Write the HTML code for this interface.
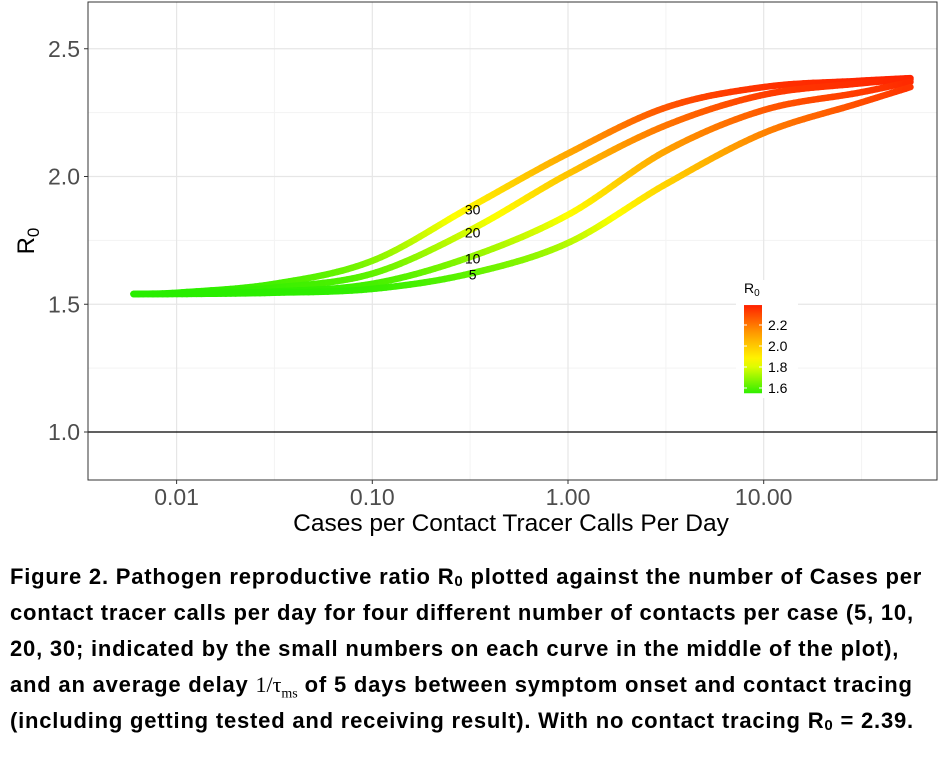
<!DOCTYPE html>
<html><head><meta charset="utf-8"><style>
body{margin:0;background:#fff;width:940px;height:772px;overflow:hidden;font-family:"Liberation Sans",sans-serif}
#cap{position:absolute;left:10px;top:559px;font-weight:bold;font-size:22px;letter-spacing:0.8px;line-height:36px;color:#000;white-space:nowrap}
#cap sub{line-height:0}
#cap .d{line-height:0}
</style></head><body>
<svg id="chart" width="940" height="550" style="position:absolute;left:0;top:0" font-family="Liberation Sans, sans-serif"></svg>
<div id="cap">Figure 2. Pathogen reproductive ratio R<sub style="font-size:15px;vertical-align:-2px">0</sub> plotted against the number of Cases per<br>contact tracer calls per day for four different number of contacts per case (5, 10,<br>20, 30; indicated by the small numbers on each curve in the middle of the plot),<br>and an average delay <span class="d" style="font-weight:normal;font-family:'Liberation Serif',serif;letter-spacing:0">1/τ<sub style="font-size:14px">ms</sub></span> of 5 days between symptom onset and contact tracing<br>(including getting tested and receiving result). With no contact tracing R<sub style="font-size:15px;vertical-align:-2px">0</sub> = 2.39.</div>
<script>
const logX=[-2.22,-2,-1.5,-1,-0.5,0,0.5,1,1.5,1.75];
const c30=[1.54,1.545,1.58,1.67,1.88,2.09,2.27,2.35,2.375,2.385];
const c20=[1.54,1.543,1.565,1.62,1.79,2.01,2.20,2.32,2.365,2.38];
const c10=[1.54,1.542,1.55,1.58,1.685,1.85,2.10,2.26,2.33,2.37];
const c5=[1.54,1.54,1.545,1.56,1.62,1.74,1.97,2.17,2.29,2.35];
const seriesNames=["30","20","10","5"];
const labelX=0.3;
const xTicks=[0.01,0.1,1,10];
const xTickLabels=["0.01","0.10","1.00","10.00"];
const yTicks=[1.0,1.5,2.0,2.5];
const legendTicks=[1.6,1.8,2.0,2.2];
const NS="http://www.w3.org/2000/svg";
const svg=document.getElementById('chart');
const L=88,R=937,T=2,B=480;
const xs=lx=>568+lx*195.7;
const ys=v=>432-(v-1)*255.5;
function mk(t,a,p){const e=document.createElementNS(NS,t);for(const k in a)e.setAttribute(k,a[k]);(p||svg).appendChild(e);return e;}
function col(v){const st=[[1.54,[40,238,0]],[1.85,[255,255,0]],[2.1,[255,165,0]],[2.39,[255,32,0]]];
 if(v<=st[0][0])return 'rgb('+st[0][1]+')';
 for(let i=1;i<st.length;i++){if(v<=st[i][0]){const t=(v-st[i-1][0])/(st[i][0]-st[i-1][0]);const c=st[i-1][1].map((a,j)=>Math.round(a+(st[i][1][j]-a)*t));return 'rgb('+c+')';}}
 return 'rgb('+st[3][1]+')';}
const grid=mk('g',{});
[1.25,1.75,2.25].forEach(v=>mk('line',{x1:L,x2:R,y1:ys(v),y2:ys(v),stroke:'#f3f3f3','stroke-width':1},grid));
[-1.5,-0.5,0.5,1.5].forEach(l=>mk('line',{x1:xs(l),x2:xs(l),y1:T,y2:B,stroke:'#f3f3f3','stroke-width':1},grid));
yTicks.forEach(v=>{if(v!==1)mk('line',{x1:L,x2:R,y1:ys(v),y2:ys(v),stroke:'#e6e6e6','stroke-width':1.2},grid);});
xTicks.forEach(t=>mk('line',{x1:xs(Math.log10(t)),x2:xs(Math.log10(t)),y1:T,y2:B,stroke:'#e6e6e6','stroke-width':1.2},grid));
const hl=mk('line',{x1:L,x2:R,y1:ys(1),y2:ys(1),stroke:'#000','stroke-width':1.2});

function interp(xa,ya,x){for(let i=1;i<xa.length;i++){if(x<=xa[i]){const x0=xa[i-1],x1=xa[i];const h=x1-x0;const t=(x-x0)/h;
 const m=k=>{if(k===0)return (ya[1]-ya[0])/(xa[1]-xa[0]);if(k===xa.length-1)return (ya[k]-ya[k-1])/(xa[k]-xa[k-1]);return (ya[k+1]-ya[k-1])/(xa[k+1]-xa[k-1]);};
 const h00=2*t*t*t-3*t*t+1,h10=t*t*t-2*t*t+t,h01=-2*t*t*t+3*t*t,h11=t*t*t-t*t;
 return h00*ya[i-1]+h10*h*m(i-1)+h01*ya[i]+h11*h*m(i);}}return ya[ya.length-1];}
[c30,c20,c10,c5].forEach((s,si)=>{
 const g=mk('g',{});
 const n=160,x0=logX[0],x1=logX[logX.length-1];let px=null,py=null,pv=null;
 for(let i=0;i<=n;i++){const lx=x0+(x1-x0)*i/n;const v=interp(logX,s,lx);const X=xs(lx),Y=ys(v);
  if(px!==null)mk('line',{x1:px,y1:py,x2:X,y2:Y,stroke:col((v+pv)/2),'stroke-width':6.5,'stroke-linecap':'round'},g);
  px=X;py=Y;pv=v;}
});
[c30,c20,c10,c5].forEach((s,si)=>{
 const lx=Math.log10(labelX);const v=interp(logX,s,lx);
 const t=mk('text',{x:xs(lx)+7,y:ys(v)+5,'font-size':14,'text-anchor':'middle',fill:'#000'});t.textContent=seriesNames[si];
 
});
const pb=mk('rect',{x:L,y:T,width:R-L,height:B-T,fill:'none',stroke:'#333','stroke-width':1});

yTicks.forEach(v=>{mk('line',{x1:L-4,x2:L,y1:ys(v),y2:ys(v),stroke:'#333'});
 const t=mk('text',{x:L-8,y:ys(v)+8,'font-size':23,'text-anchor':'end',fill:'#4d4d4d'});t.textContent=v.toFixed(1);
 });
xTicks.forEach((tk,i)=>{const X=xs(Math.log10(tk));mk('line',{x1:X,x2:X,y1:B,y2:B+4,stroke:'#333'});
 const t=mk('text',{x:X,y:B+25,'font-size':23,'text-anchor':'middle',fill:'#4d4d4d'});t.textContent=xTickLabels[i];
 });
const xt=mk('text',{x:511,y:531,'font-size':24.5,'text-anchor':'middle',fill:'#000'});xt.textContent='Cases per Contact Tracer Calls Per Day';

const yt=mk('text',{transform:'translate(34,241) rotate(-90)','font-size':24,'text-anchor':'middle',fill:'#000'});
yt.innerHTML='R<tspan font-size="17" dy="5">0</tspan>';

const lg=mk('g',{});
const lys=v=>388-(v-1.6)*105;
mk('rect',{x:736,y:280,width:62,height:118,fill:'#fff'},lg);
const lt=mk('text',{x:744,y:293,'font-size':14,fill:'#000'},lg);lt.innerHTML='R<tspan font-size="10" dy="3">0</tspan>';
const defs=mk('defs',{});const gr=mk('linearGradient',{id:'lgr',x1:0,y1:1,x2:0,y2:0},defs);
for(let i=0;i<=10;i++){const v=1.55+(2.39-1.55)*i/10;mk('stop',{offset:i/10,'stop-color':col(v)},gr);}
mk('rect',{x:744,y:lys(2.39),width:18,height:lys(1.55)-lys(2.39),fill:'url(#lgr)'},lg);
legendTicks.forEach(v=>{mk('line',{x1:744,x2:747,y1:lys(v),y2:lys(v),stroke:'#fff'},lg);mk('line',{x1:759,x2:762,y1:lys(v),y2:lys(v),stroke:'#fff'},lg);
 const t=mk('text',{x:768,y:lys(v)+5,'font-size':14,fill:'#000'},lg);t.textContent=v.toFixed(1);});
</script>
</body></html>
